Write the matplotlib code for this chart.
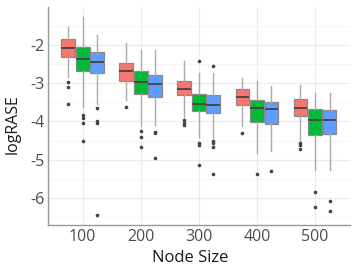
import matplotlib
matplotlib.use("Agg")
import matplotlib.pyplot as plt

node_sizes = ["100", "200", "300", "400", "500"]
series_names = ["A", "B", "C"]
colors = ["#F8766D", "#00BA38", "#619CFF"]

# per series: lists across node sizes
whishi = [
    [-1.54, -1.96, -2.43, -2.86, -3.05],
    [-1.26, -2.12, -2.72, -2.95, -3.25],
    [-1.75, -2.12, -2.72, -3.07, -3.25],
]
q3 = [
    [-1.85, -2.48, -2.93, -3.16, -3.40],
    [-2.06, -2.69, -3.28, -3.44, -3.68],
    [-2.17, -2.79, -3.30, -3.49, -3.70],
]
med = [
    [-2.07, -2.67, -3.16, -3.35, -3.65],
    [-2.37, -2.96, -3.54, -3.66, -3.96],
    [-2.44, -3.02, -3.58, -3.68, -3.96],
]
q1 = [
    [-2.31, -2.93, -3.32, -3.58, -3.86],
    [-2.69, -3.28, -3.73, -4.01, -4.36],
    [-2.74, -3.37, -3.77, -4.07, -4.34],
]
whislo = [
    [-2.83, -3.44, -3.87, -4.13, -4.53],
    [-3.63, -4.13, -4.40, -4.82, -5.27],
    [-3.54, -4.10, -4.43, -4.76, -5.27],
]
fliers = [
    [[-2.97, -3.11, -3.54], [-3.63], [-3.96, -4.05, -4.09], [-4.29], [-4.57, -4.61, -4.71]],
    [[-3.82, -3.91, -4.05, -4.52], [-4.26, -4.40, -4.66], [-2.41, -4.57, -4.62, -5.15], [-5.37], [-5.84, -6.24]],
    [[-3.65, -4.00, -4.03, -6.45], [-4.28, -4.30, -4.95], [-2.56, -4.50, -4.55, -4.66, -5.37], [-5.30], [-6.09, -6.33]],
]

fig = plt.figure(figsize=(3.57, 2.71), dpi=100)
ax = fig.add_axes([0.134, 0.170, 0.846, 0.804])

width = 0.25
offsets = [-0.25, 0.0, 0.25]
for s in range(3):
    stats = []
    for g in range(5):
        stats.append(dict(med=med[s][g], q1=q1[s][g], q3=q3[s][g],
                          whislo=whislo[s][g], whishi=whishi[s][g],
                          fliers=fliers[s][g]))
    pos = [g + 1 + offsets[s] for g in range(5)]
    ax.bxp(stats, positions=pos, widths=width * 0.95, patch_artist=True,
           showcaps=False, manage_ticks=False,
           boxprops=dict(facecolor=colors[s], edgecolor="#8a8a8a", linewidth=0.9),
           medianprops=dict(color="#444444", linewidth=1.3),
           whiskerprops=dict(color="#aaaaaa", linewidth=1.0),
           flierprops=dict(marker="o", markersize=1.6, markerfacecolor="#444444",
                           markeredgecolor="#444444", linestyle="none"),
           zorder=3)

ax.set_xlim(0.4, 5.6)
ax.set_ylim(-6.706, -1.007)
ax.set_xticks(range(1, 6))
ax.set_xticklabels(node_sizes)
ax.set_yticks([-6, -5, -4, -3, -2])
ax.set_yticklabels(["-6", "-5", "-4", "-3", "-2"])
ax.set_yticks([-6.5, -5.5, -4.5, -3.5, -2.5, -1.5], minor=True)

ax.grid(True, which="major", color="#ebebeb", linewidth=0.8, zorder=0)
ax.grid(True, which="minor", axis="y", color="#f4f4f4", linewidth=0.6, zorder=0)
ax.set_axisbelow(True)

for side in ["top", "right"]:
    ax.spines[side].set_visible(False)
for side in ["left", "bottom"]:
    ax.spines[side].set_color("#999999")
    ax.spines[side].set_linewidth(1.0)

ax.tick_params(axis="both", which="both", length=0, labelsize=11.5, labelcolor="#4d4d4d")
ax.tick_params(axis="y", pad=2)
ax.tick_params(axis="x", pad=3)
for lab in ax.get_xticklabels() + ax.get_yticklabels():
    lab.set_fontfamily("Open Sans")

ax.set_xlabel("Node Size", fontsize=12, fontfamily="Open Sans", color="#1a1a1a")
ax.set_ylabel("logRASE", fontsize=11.5, fontfamily="Open Sans", color="#1a1a1a")
ax.xaxis.set_label_coords(0.47, -0.115)
ax.yaxis.set_label_coords(-0.09, 0.465)

fig.savefig("out.png", dpi=100, facecolor="white")
